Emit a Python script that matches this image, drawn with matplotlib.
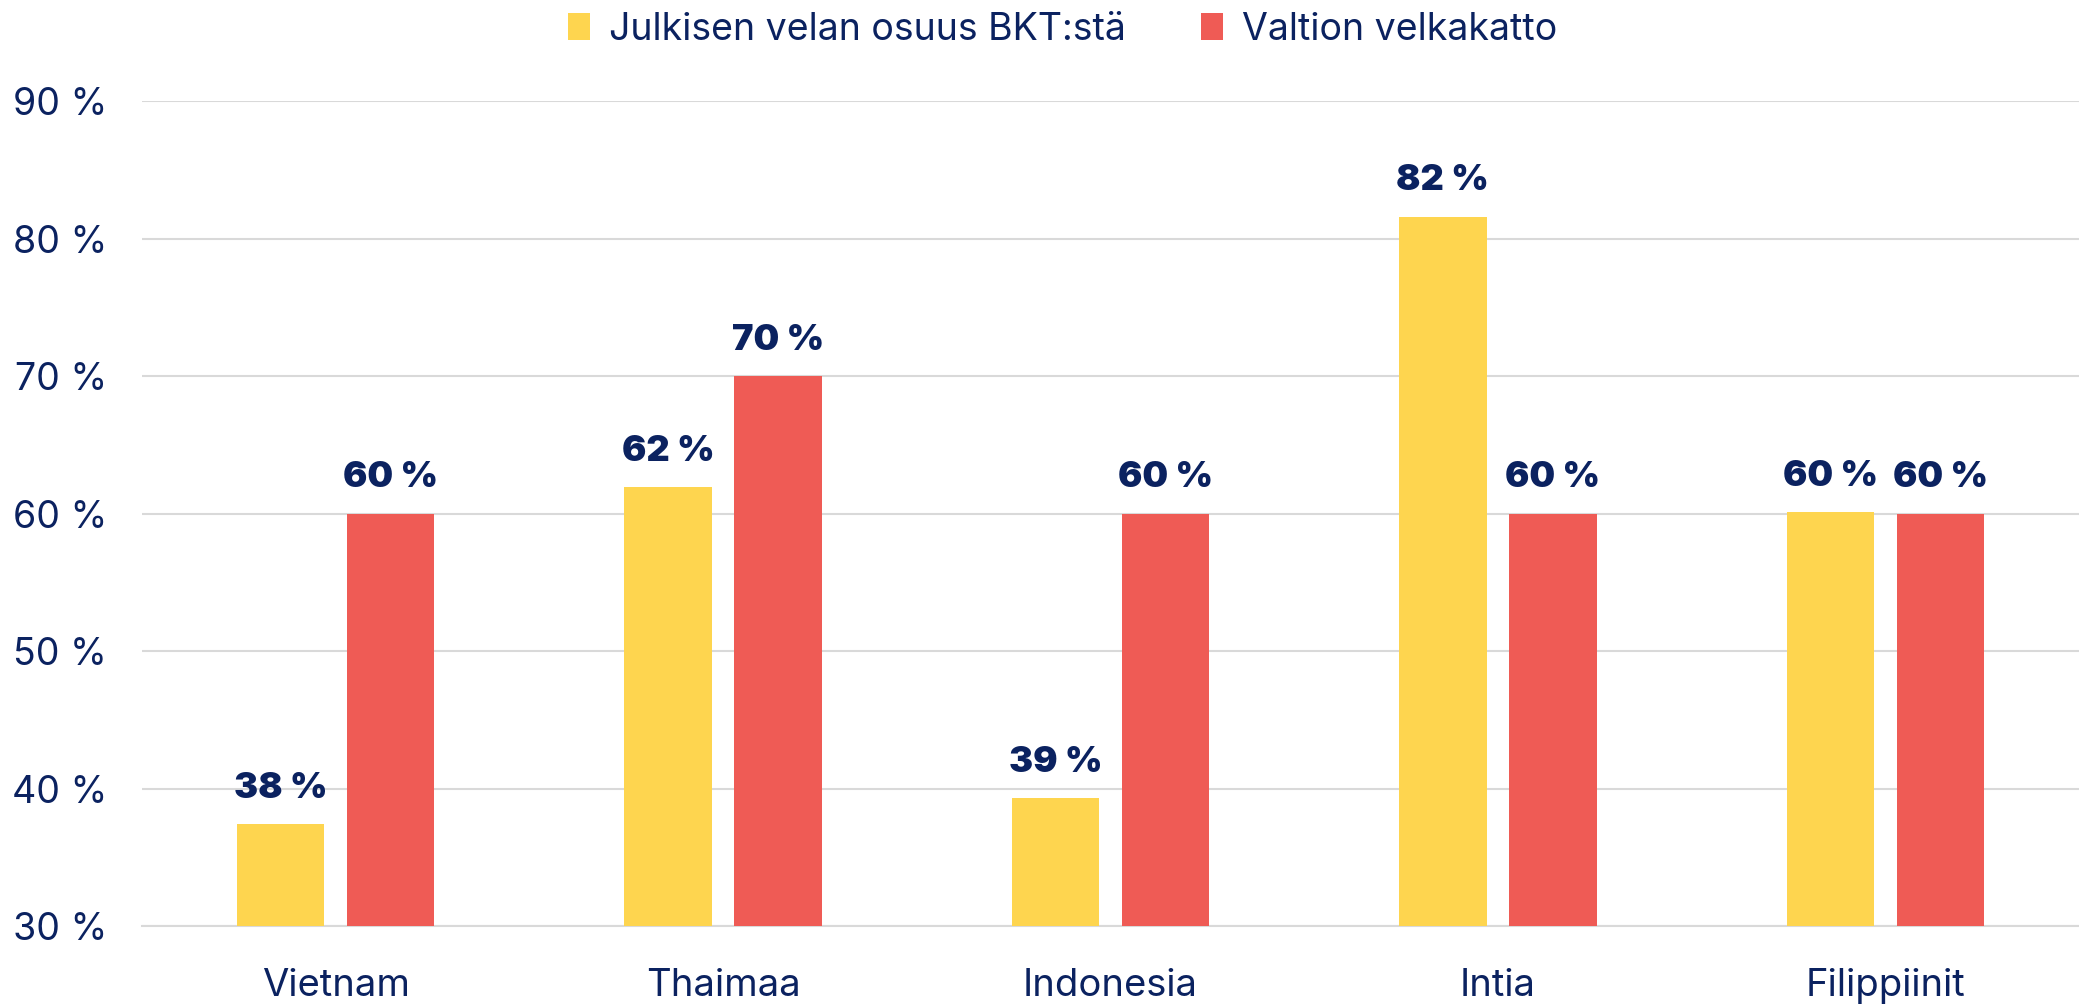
import matplotlib
matplotlib.use("Agg")
import matplotlib.pyplot as plt
import numpy as np

# data
countries = ["Vietnam", "Thaimaa", "Indonesia", "Intia", "Filippiinit"]
debt_share = [37.4, 61.9, 39.3, 81.6, 60.1]
debt_ceiling = [60, 70, 60, 60, 60]
debt_labels = ["38 %", "62 %", "39 %", "82 %", "60 %"]
ceiling_labels = ["60 %", "70 %", "60 %", "60 %", "60 %"]
series_names = ["Julkisen velan osuus BKT:stä", "Valtion velkakatto"]
yticks = [30, 40, 50, 60, 70, 80, 90]

navy = "#0b2260"
yellow = "#fed54f"
red = "#ef5b55"
grid = "#d9d9d9"

plt.rcParams["font.family"] = ["Inter", "DejaVu Sans"]

fig = plt.figure(figsize=(20.79, 10.07), dpi=100)
ax = fig.add_axes([0.0683, 0.0804, 0.9317, 0.8193])

x = np.arange(len(countries))
w = 0.226
off = 0.142
b1 = ax.bar(x - off, debt_share, w, color=yellow, label=series_names[0], zorder=3)
b2 = ax.bar(x + off, debt_ceiling, w, color=red, label=series_names[1], zorder=3)

for bars, labels in [(b1, debt_labels), (b2, ceiling_labels)]:
    for rect, lab in zip(bars, labels):
        ax.annotate(lab, (rect.get_x() + rect.get_width() / 2, rect.get_height()),
                    xytext=(0, 14), textcoords="offset points", ha="center", va="bottom",
                    fontsize=26, fontweight="black", color=navy)

ax.set_xlim(-0.5, len(countries) - 0.5)
ax.set_ylim(30, 90)
ax.set_yticks(yticks)
ax.set_yticklabels([f"{t} %" for t in yticks])
ax.set_xticks(x)
ax.set_xticklabels(countries)
ax.tick_params(axis="y", length=0, pad=25, labelsize=27, labelcolor=navy)
ax.tick_params(axis="x", length=0, pad=30, labelsize=27.5, labelcolor=navy)
ax.grid(axis="y", color=grid, linewidth=1.5, zorder=0)
for s in ["top", "right", "left"]:
    ax.spines[s].set_visible(False)
ax.spines["bottom"].set_color(grid)
ax.spines["bottom"].set_linewidth(1.5)

fig.legend(loc="upper center", bbox_to_anchor=(0.511, 1.022), ncol=2, frameon=False,
           fontsize=27, labelcolor=navy, handlelength=0.6, handleheight=0.75,
           handletextpad=0.5, columnspacing=2.0)

fig.savefig("out.png", dpi=100)
